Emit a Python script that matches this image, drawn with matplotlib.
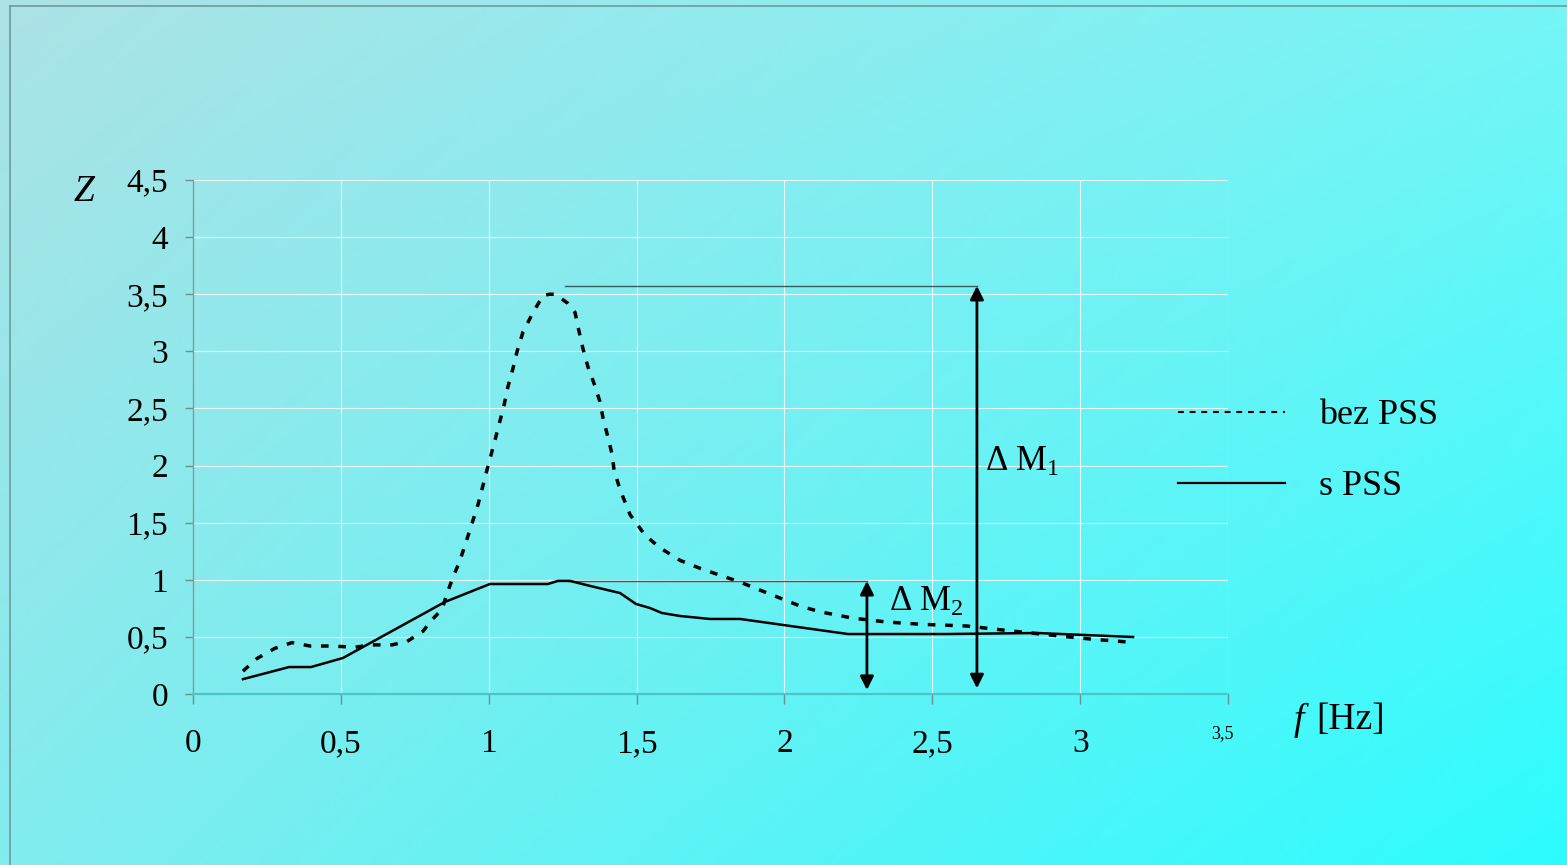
import numpy as np
import matplotlib.pyplot as plt
from matplotlib.lines import Line2D
from matplotlib.transforms import ScaledTranslation

plt.rcParams['font.family'] = ['Liberation Serif', 'DejaVu Serif']
plt.rcParams['mathtext.fontset'] = 'custom'
plt.rcParams['mathtext.rm'] = 'Liberation Serif'
plt.rcParams['mathtext.it'] = 'Liberation Serif:italic'

# bez PSS (dashed curve)
f_bez = [0.169, 0.216, 0.277, 0.335, 0.396, 0.463, 0.548, 0.605, 0.673, 0.724,
         0.778, 0.808, 0.842, 0.859, 0.879, 0.903, 0.937, 0.964, 0.994, 1.021,
         1.052, 1.065, 1.082, 1.096, 1.116, 1.150, 1.184, 1.207, 1.224, 1.268,
         1.292, 1.305, 1.319, 1.336, 1.356, 1.376, 1.387, 1.403, 1.417, 1.424,
         1.444, 1.478, 1.529, 1.579, 1.647, 1.715, 1.782, 1.850, 1.917, 1.985,
         2.053, 2.120, 2.229, 2.347, 2.465, 2.618, 2.739, 2.922, 3.040, 3.162]
z_bez = [0.20, 0.31, 0.40, 0.45, 0.42, 0.42, 0.41, 0.43, 0.43, 0.46,
         0.55, 0.65, 0.74, 0.88, 1.02, 1.17, 1.44, 1.66, 1.96, 2.22,
         2.53, 2.69, 2.85, 3.00, 3.17, 3.34, 3.49, 3.50, 3.50, 3.42,
         3.34, 3.18, 3.02, 2.86, 2.72, 2.56, 2.41, 2.25, 2.10, 1.96,
         1.79, 1.57, 1.39, 1.28, 1.17, 1.10, 1.04, 0.98, 0.91, 0.84,
         0.77, 0.72, 0.665, 0.63, 0.61, 0.595, 0.56, 0.51, 0.48, 0.455]

# s PSS (solid curve)
f_s = [0.169, 0.325, 0.399, 0.507, 0.852, 1.004, 1.200, 1.234, 1.275, 1.343,
       1.444, 1.498, 1.545, 1.586, 1.647, 1.748, 1.850, 2.215, 2.550, 2.854, 3.179]
z_s = [0.13, 0.236, 0.236, 0.315, 0.806, 0.963, 0.963, 0.99, 0.99, 0.946,
       0.884, 0.788, 0.753, 0.709, 0.683, 0.657, 0.657, 0.525, 0.525, 0.534, 0.499]

x_ticks = [0, 0.5, 1, 1.5, 2, 2.5, 3, 3.5]
x_labels = ['0', '0,5', '1', '1,5', '2', '2,5', '3', '3,5']
y_ticks = [0, 0.5, 1, 1.5, 2, 2.5, 3, 3.5, 4, 4.5]
y_labels = ['0', '0,5', '1', '1,5', '2', '2,5', '3', '3,5', '4', '4,5']

# delta M markers: (line start f, arrow f, top Z, bottom Z)
dM1 = (1.258, 2.651, 3.573, 0.05)
dM2 = (1.268, 2.279, 0.990, 0.035)

W, H = 1567, 865
fig = plt.figure(figsize=(W / 100, H / 100), dpi=100)

# diagonal gradient background
bg = fig.add_axes([0, 0, 1, 1], zorder=-10)
u = np.linspace(0, 1, 300)
v = np.linspace(0, 1, 200)
U, V = np.meshgrid(u, v)
tl = np.array([172, 226, 230]) / 255
tr = np.array([118, 245, 246]) / 255
bl = np.array([130, 236, 238]) / 255
br = np.array([44, 252, 255]) / 255
img = ((1 - U)[..., None] * (1 - V)[..., None] * tl + U[..., None] * (1 - V)[..., None] * tr
       + (1 - U)[..., None] * V[..., None] * bl + U[..., None] * V[..., None] * br)
bg.imshow(img, aspect='auto', extent=[0, 1, 0, 1], origin='upper')
bg.set_xlim(0, 1)
bg.set_ylim(0, 1)
bg.axis('off')
fx0 = 10 / W
fy0 = 1 - 6 / H
bg.plot([fx0, fx0], [0, fy0], color='#6f9a9c', lw=1.2)
bg.plot([fx0, 1], [fy0, fy0], color='#6f9a9c', lw=1.2)

ax = fig.add_axes([193 / W, 1 - 694 / H, (1228 - 193) / W, (694 - 180) / H])
ax.set_facecolor('none')
ax.set_xlim(0, 3.5)
ax.set_ylim(0, 4.5)
ax.set_xticks(x_ticks)
ax.set_xticklabels(x_labels)
ax.set_yticks(y_ticks)
ax.set_yticklabels(y_labels)
ax.grid(True, color='white', lw=0.8, alpha=0.85, zorder=0)
ax.set_axisbelow(True)
for s in ['top', 'right']:
    ax.spines[s].set_visible(False)
ax.spines['left'].set_color('#7d9c9e')
ax.spines['bottom'].set_color('#4cc4c8')
ax.spines['left'].set_linewidth(1.0)
ax.spines['bottom'].set_linewidth(1.6)
ax.tick_params(axis='y', length=6, width=1.0, color='#6f8f90', pad=12, labelsize=24)
ax.tick_params(axis='x', length=7, width=1.0, color='#6f8f90', pad=18, labelsize=24)
last = ax.get_xticklabels()[-1]
last.set_fontsize(13)
last.set_transform(last.get_transform() + ScaledTranslation(-6 / 100, 4 / 100, fig.dpi_scale_trans))

ax.plot(f_bez, z_bez, color='black', lw=2.5, ls=(0, (2.2, 2.8)), zorder=3)
ax.plot(f_s, z_s, color='black', lw=1.8, zorder=4)

# delta M markers
for x0, xa, top, bot in [dM1, dM2]:
    ax.plot([x0, xa], [top, top], color='#3a5a5c', lw=1.0, zorder=3)
    ax.annotate('', xy=(xa, bot), xytext=(xa, top),
                arrowprops=dict(arrowstyle='<|-|>', color='black', lw=2.0,
                                mutation_scale=20, shrinkA=0, shrinkB=0), zorder=5)
ax.text(2.679, 2.03, r'$\Delta\ \mathrm{M}_{1}$', fontsize=25, va='center', ha='left')
ax.text(2.354, 0.80, r'$\Delta\ \mathrm{M}_{2}$', fontsize=25, va='center', ha='left')

# axis titles
fig.text(84 / W, 1 - 192 / H, 'Z', fontsize=27, style='italic', ha='center', va='center')
fig.text(1299 / W, 1 - 720 / H, 'f', fontsize=27, style='italic', ha='center', va='center')
fig.text(1316 / W, 1 - 720 / H, '[Hz]', fontsize=27, ha='left', va='center')

handles = [Line2D([], [], color='black', lw=1.5, ls=(0, (2.8, 2.8))),
           Line2D([], [], color='black', lw=1.6)]
fig.legend(handles, ['bez PSS', 's PSS'], loc='upper left',
           bbox_to_anchor=(1178 / W, 1 - 399 / H), frameon=False, fontsize=26,
           handlelength=2.95, handletextpad=0.95, labelspacing=1.05,
           borderpad=0, borderaxespad=0)

fig.savefig('out.png', dpi=100)
